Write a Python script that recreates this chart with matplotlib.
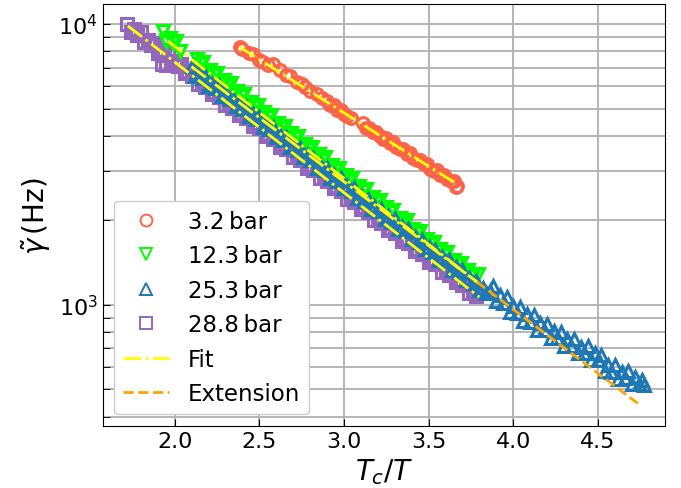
import numpy as np
import matplotlib
matplotlib.use("Agg")
import matplotlib.pyplot as plt

# damping rate vs reduced inverse temperature, four pressures
x_32 = [2.385, 2.40, 2.44, 2.462, 2.50, 2.521, 2.55, 2.58, 2.62, 2.66, 2.681, 2.722, 2.75,
        2.769, 2.80, 2.84, 2.87, 2.90, 2.92, 2.94, 2.96, 2.98, 3.00, 3.02, 3.04, 3.11, 3.13,
        3.15, 3.17, 3.19, 3.21, 3.23, 3.25, 3.27, 3.29, 3.31, 3.33, 3.35, 3.37, 3.39, 3.41,
        3.43, 3.45, 3.47, 3.49, 3.51, 3.53, 3.55, 3.57, 3.59, 3.61, 3.63, 3.65, 3.67, 3.66]
y_32 = [8280, 8150, 7900, 7820, 7450, 7320, 7150, 7210, 6850, 6600, 6540, 6220, 6100,
        5970, 5800, 5640, 5450, 5320, 5130, 5140, 4950, 4960, 4790, 4700, 4620, 4430, 4270,
        4280, 4120, 4130, 3980, 3910, 3920, 3780, 3790, 3650, 3580, 3590, 3460, 3470, 3340,
        3280, 3290, 3170, 3180, 3060, 3010, 3020, 2900, 2910, 2800, 2760, 2760, 2660, 2620]

x_123 = [1.93, 1.95, 1.97, 1.99, 2.01, 2.03, 2.13, 2.15, 2.17, 2.19, 2.21, 2.23, 2.25, 2.27,
         2.29, 2.31, 2.33, 2.35, 2.37, 2.39, 2.41, 2.43, 2.45, 2.47, 2.49, 2.51, 2.53, 2.55,
         2.57, 2.59, 2.61, 2.63, 2.65, 2.67, 2.69, 2.71, 2.73, 2.75, 2.77, 2.79, 2.81, 2.83,
         2.85, 2.87, 2.89, 2.91, 2.93, 2.95, 2.97, 2.99, 3.01, 3.03, 3.05, 3.07, 3.09, 3.11,
         3.13, 3.15, 3.17, 3.19, 3.21, 3.23, 3.25, 3.27, 3.29, 3.31, 3.33, 3.35, 3.37, 3.39,
         3.41, 3.43, 3.45, 3.47, 3.49, 3.51, 3.53, 3.55, 3.57, 3.59, 3.61, 3.63, 3.65, 3.67,
         3.69, 3.71, 3.73, 3.75, 3.77, 3.79]
y_123 = [9480, 8730, 8900, 8540, 8690, 8010, 7490, 7180, 7310, 6740, 6870, 6590, 6710, 6180,
         6300, 6040, 6150, 5670, 5770, 5540, 5640, 5200, 5300, 5080, 5170, 4770, 4860, 4660,
         4740, 4370, 4450, 4270, 4350, 4010, 4080, 3920, 3990, 3680, 3750, 3590, 3660, 3370,
         3440, 3290, 3350, 3090, 3150, 3020, 3080, 2840, 2890, 2770, 2820, 2600, 2650, 2540,
         2590, 2380, 2430, 2330, 2370, 2190, 2230, 2140, 2180, 2000, 2040, 1960, 2000, 1840,
         1870, 1800, 1830, 1690, 1720, 1650, 1680, 1550, 1580, 1510, 1540, 1420, 1450, 1390,
         1410, 1300, 1330, 1270, 1290, 1290]

x_253 = [2.10, 2.12, 2.14, 2.16, 2.18, 2.20, 2.22, 2.24, 2.26, 2.28, 2.30, 2.32, 2.34, 2.36,
         2.38, 2.40, 2.42, 2.44, 2.46, 2.48, 2.50, 2.52, 2.54, 2.56, 2.58, 2.60, 2.62, 2.64,
         2.66, 2.68, 2.70, 2.72, 2.74, 2.76, 2.78, 2.80, 2.82, 2.84, 2.86, 2.88, 2.90, 2.92,
         2.94, 2.96, 2.98, 3.00, 3.02, 3.04, 3.06, 3.08, 3.10, 3.12, 3.14, 3.16, 3.18, 3.20,
         3.22, 3.24, 3.26, 3.28, 3.30, 3.32, 3.34, 3.36, 3.38, 3.40, 3.42, 3.44, 3.46, 3.48,
         3.50, 3.52, 3.54, 3.56, 3.58, 3.60, 3.62, 3.64, 3.66, 3.68, 3.70, 3.72, 3.74, 3.76,
         3.78, 3.80, 3.82, 3.84, 3.86, 3.88, 3.90, 3.92, 3.94, 3.96, 3.98, 4.00, 4.02, 4.04,
         4.06, 4.08, 4.10, 4.12, 4.14, 4.16, 4.18, 4.20, 4.22, 4.24, 4.26, 4.28, 4.30, 4.32,
         4.34, 4.36, 4.38, 4.40, 4.42, 4.44, 4.46, 4.48, 4.50, 4.52, 4.54, 4.56, 4.58, 4.60,
         4.62, 4.64, 4.66, 4.68, 4.70, 4.72, 4.74, 4.76, 4.77]
y_253 = [7100, 6550, 6680, 6410, 6530, 6020, 6140, 5900, 6010, 5540, 5650, 5420, 5520, 5100,
         5200, 4990, 5080, 4690, 4780, 4590, 4670, 4310, 4390, 4220, 4300, 3960, 4040, 3880,
         3950, 3640, 3720, 3570, 3630, 3350, 3420, 3280, 3340, 3080, 3140, 3020, 3070, 2840,
         2890, 2770, 2830, 2610, 2660, 2550, 2600, 2400, 2450, 2350, 2390, 2200, 2250, 2160,
         2200, 2030, 2070, 1980, 2020, 1870, 1900, 1830, 1860, 1720, 1750, 1680, 1710, 1580,
         1610, 1540, 1570, 1450, 1480, 1420, 1450, 1330, 1360, 1310, 1330, 1230, 1250, 1200,
         1220, 1130, 1150, 1100, 1120, 1166, 1031, 1083, 1019, 1068, 946, 995, 938, 987,
         877, 925, 873, 919, 817, 862, 812, 854, 761, 805, 761, 804, 717, 758,
         716, 755, 673, 711, 674, 713, 637, 674, 637, 662, 581, 612, 576, 609,
         545, 579, 551, 584, 523, 554, 525, 540, 520]

x_288 = [1.72, 1.74, 1.76, 1.78, 1.80, 1.82, 1.84, 1.86, 1.88, 1.90, 1.92, 1.925, 1.94, 1.95,
         1.96, 1.98, 2.00, 2.02, 2.04, 2.06, 2.08, 2.10, 2.12, 2.14, 2.16, 2.18, 2.20, 2.22,
         2.24, 2.26, 2.28, 2.30, 2.32, 2.34, 2.36, 2.38, 2.40, 2.42, 2.44, 2.46, 2.48, 2.50,
         2.52, 2.54, 2.56, 2.58, 2.60, 2.62, 2.64, 2.66, 2.68, 2.70, 2.72, 2.74, 2.76, 2.78,
         2.80, 2.82, 2.84, 2.86, 2.88, 2.90, 2.92, 2.94, 2.96, 2.98, 3.00, 3.02, 3.04, 3.06,
         3.08, 3.10, 3.12, 3.14, 3.16, 3.18, 3.20, 3.22, 3.24, 3.26, 3.28, 3.30, 3.32, 3.34,
         3.36, 3.38, 3.40, 3.42, 3.44, 3.46, 3.48, 3.50, 3.52, 3.54, 3.56, 3.58, 3.60, 3.62,
         3.64, 3.66, 3.68, 3.70, 3.72, 3.74, 3.76, 3.78, 3.80]
y_288 = [10000, 9390, 9570, 9180, 9350, 8620, 8780, 8430, 8580, 7910, 8060, 7200, 7740, 7150,
         7880, 7260, 7400, 7100, 7230, 6670, 6790, 6520, 6640, 6120, 6240, 5980, 6090, 5620,
         5720, 5490, 5590, 5160, 5260, 5040, 5130, 4730, 4820, 4630, 4710, 4340, 4430, 4250,
         4330, 3990, 4060, 3900, 3970, 3660, 3730, 3580, 3650, 3360, 3420, 3290, 3350, 3080,
         3140, 3020, 3070, 2830, 2890, 2770, 2820, 2600, 2650, 2540, 2590, 2390, 2430, 2330,
         2380, 2190, 2230, 2140, 2180, 2010, 2050, 1965, 2000, 1845, 1880, 1805, 1840, 1695,
         1725, 1655, 1685, 1555, 1585, 1520, 1550, 1425, 1455, 1395, 1420, 1310, 1335, 1280,
         1305, 1205, 1225, 1175, 1200, 1105, 1125, 1080, 1100]

# Arrhenius fits: log10(gamma) = a + b * (Tc/T), over the fitted range
fit_a = [4.824, 4.861, 4.804, 4.795]
fit_b = [-0.380, -0.470, -0.455, -0.465]
fit_lo = [2.385, 1.96, 2.10, 1.724]
fit_hi = [3.667, 3.80, 3.785, 3.80]
ext_range = [3.785, 4.75]   # 25.3 bar fit carried past the fitted data

series = [
    ("3.2\u2009bar", x_32, y_32, "o", "tomato", 4),
    ("12.3\u2009bar", x_123, y_123, "v", "lime", 3),
    ("25.3\u2009bar", x_253, y_253, "^", "#1f77b4", 5),
    ("28.8\u2009bar", x_288, y_288, "s", "#9467bd", 2),
]

fig, ax = plt.subplots(figsize=(6.81, 4.89), dpi=100)
fig.subplots_adjust(left=0.151, right=0.9765, bottom=0.127, top=0.99)

for label, xs, ys, m, c, z in series:
    ax.plot(xs, ys, m, ls="none", mfc="none", mec=c, mew=2.2, ms=8.5,
            label=label, zorder=z)

for i, (a, b, lo, hi) in enumerate(zip(fit_a, fit_b, fit_lo, fit_hi)):
    xx = np.linspace(lo, hi, 50)
    ax.plot(xx, 10 ** (a + b * xx), color="yellow", ls="-.", lw=2.0, zorder=6,
            label="Fit" if i == 0 else None)

xe = np.linspace(*ext_range, 50)
ax.plot(xe, 10 ** (fit_a[2] + fit_b[2] * xe), color="orange", ls="--", lw=2.0,
        zorder=6, label="Extension")

ax.set_yscale("log")
ax.set_xlim(1.576, 4.896)
ax.set_ylim(371, 11800)
ax.set_xticks([2.0, 2.5, 3.0, 3.5, 4.0, 4.5])
ax.grid(True, which="major", color="#b0b0b0", lw=1.3)
ax.grid(True, which="minor", axis="y", color="#b0b0b0", lw=1.3)
ax.set_axisbelow(True)
ax.tick_params(which="both", direction="in", labelsize=16)
ax.tick_params(which="major", length=5)
ax.tick_params(which="minor", length=5)

ax.set_xlabel(r"$T_c/T$", fontsize=20)
ax.set_ylabel(r"$\tilde{\gamma}\,$(Hz)", fontsize=20)

leg = ax.legend(loc="lower left", fontsize=16.5, framealpha=1.0)
for h in leg.legend_handles:
    h.set_markeredgewidth(1.4)

fig.savefig("out.png", dpi=100)
